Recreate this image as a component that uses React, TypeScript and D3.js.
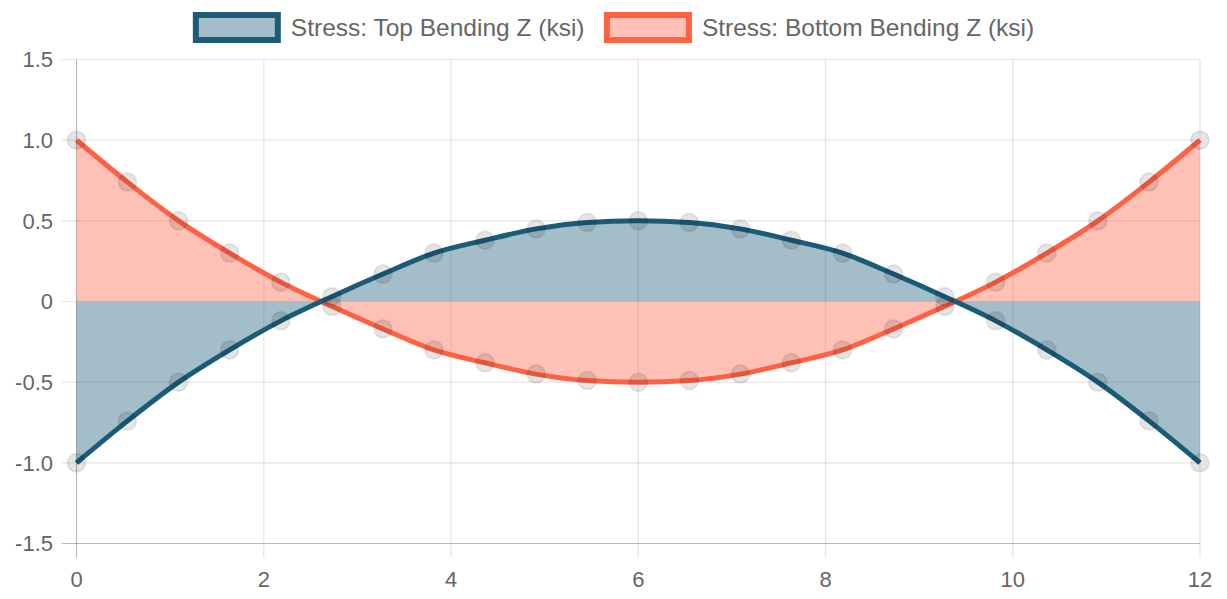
import React from 'react';
import * as d3 from 'd3';

// Stress along the member: top vs bottom bending about Z, filled to zero.

const STATIONS = [
  0, 0.545, 1.091, 1.636, 2.182, 2.727, 3.273, 3.818, 4.364, 4.909, 5.455, 6,
  6.545, 7.091, 7.636, 8.182, 8.727, 9.273, 9.818, 10.364, 10.909, 11.455, 12,
];

const TOP_STRESS = [
  -1.0, -0.74, -0.5, -0.3, -0.12, 0.03, 0.17, 0.3, 0.38, 0.45, 0.49, 0.5,
  0.49, 0.45, 0.38, 0.3, 0.17, 0.03, -0.12, -0.3, -0.5, -0.74, -1.0,
];

const BOTTOM_STRESS = [
  1.0, 0.74, 0.5, 0.3, 0.12, -0.03, -0.17, -0.3, -0.38, -0.45, -0.49, -0.5,
  -0.49, -0.45, -0.38, -0.3, -0.17, -0.03, 0.12, 0.3, 0.5, 0.74, 1.0,
];

const X_TICKS = [0, 2, 4, 6, 8, 10, 12];
const Y_TICKS = [-1.5, -1.0, -0.5, 0, 0.5, 1.0, 1.5];

const SERIES = [
  { label: 'Stress: Top Bending Z (ksi)', values: TOP_STRESS, color: '#1a5b78', fill: 'rgba(26,91,120,0.4)' },
  { label: 'Stress: Bottom Bending Z (ksi)', values: BOTTOM_STRESS, color: '#ff6145', fill: 'rgba(255,97,69,0.4)' },
];

const W = 1227;
const H = 599;
const M = { left: 76.5, right: 1200, top: 59.5, bottom: 543.5 };
const FONT = '"Liberation Sans", Arial, Helvetica, sans-serif';
const TICK_FONT = 22;
const LEGEND_FONT = 24.5;
const GRID = 'rgba(0,0,0,0.1)';
const TEXT = '#666';

function measure(text: string, size: number) {
  const c = document.createElement('canvas').getContext('2d');
  if (!c) return text.length * size * 0.5;
  c.font = `${size}px ${FONT}`;
  return c.measureText(text).width;
}

export default function App() {
  const x = d3.scaleLinear().domain([0, 12]).range([M.left, M.right]);
  const y = d3.scaleLinear().domain([-1.5, 1.5]).range([M.bottom, M.top]);

  const line = d3
    .line<number>()
    .x((_, i) => x(STATIONS[i]))
    .y((v) => y(v))
    .curve(d3.curveMonotoneX);
  const area = d3
    .area<number>()
    .x((_, i) => x(STATIONS[i]))
    .y0(y(0))
    .y1((v) => y(v))
    .curve(d3.curveMonotoneX);

  // legend layout, centred over the chart
  const boxW = 82;
  const boxH = 25;
  const gap = 10;
  const itemGap = 19;
  const widths = SERIES.map((s) => measure(s.label, LEGEND_FONT));
  const total = widths.reduce((a, w) => a + boxW + 6 + gap + w, 0) + itemGap * (SERIES.length - 1);
  let cursor = W / 2 - total / 2;
  const legend = SERIES.map((s, i) => {
    const item = { ...s, x: cursor + 3, tx: cursor + boxW + 6 + gap };
    cursor += boxW + 6 + gap + widths[i] + itemGap;
    return item;
  });
  const legendY = 27.5;

  const fmt = (v: number) => (v === 0 ? '0' : v.toFixed(1));

  return (
    <svg width={W} height={H} style={{ display: 'block', margin: -8 }} fontFamily={FONT}>
      <rect width={W} height={H} fill="#fff" />

      {/* grid + ticks */}
      {Y_TICKS.map((t) => (
        <line key={`gy-${t}`} x1={M.left - 15} x2={M.right} y1={y(t)} y2={y(t)} stroke={GRID} strokeWidth={1.2} />
      ))}
      {X_TICKS.map((t) => (
        <line key={`gx-${t}`} x1={x(t)} x2={x(t)} y1={M.top} y2={M.bottom + 14} stroke={GRID} strokeWidth={1.2} />
      ))}
      <line x1={M.left} x2={M.left} y1={M.top} y2={M.bottom + 14} stroke="rgba(0,0,0,0.18)" strokeWidth={1.2} />
      <line x1={M.left - 15} x2={M.right} y1={M.bottom} y2={M.bottom} stroke="rgba(0,0,0,0.18)" strokeWidth={1.2} />

      {Y_TICKS.map((t) => (
        <text key={`ly-${t}`} x={53} y={y(t)} dy="0.36em" textAnchor="end" fontSize={TICK_FONT} fill={TEXT}>
          {fmt(t)}
        </text>
      ))}
      {X_TICKS.map((t) => (
        <text key={`lx-${t}`} x={x(t)} y={587} textAnchor="middle" fontSize={TICK_FONT} fill={TEXT}>
          {t}
        </text>
      ))}

      {/* datasets: last drawn first so the first sits on top */}
      {[...SERIES].reverse().map((s) => (
        <g key={s.label}>
          <path d={area(s.values) ?? ''} fill={s.fill} />
          <path d={line(s.values) ?? ''} fill="none" stroke={s.color} strokeWidth={5} strokeLinejoin="round" />
          {s.values.map((v, i) => (
            <circle
              key={i}
              cx={x(STATIONS[i])}
              cy={y(v)}
              r={9}
              fill="rgba(0,0,0,0.1)"
              stroke="rgba(0,0,0,0.08)"
              strokeWidth={2}
            />
          ))}
        </g>
      ))}

      {/* legend */}
      {legend.map((s) => (
        <g key={`lg-${s.label}`}>
          <rect x={s.x} y={legendY - boxH / 2} width={boxW} height={boxH} fill={s.fill} stroke={s.color} strokeWidth={6} />
          <text x={s.tx} y={legendY} dy="0.36em" fontSize={LEGEND_FONT} fill={TEXT}>
            {s.label}
          </text>
        </g>
      ))}
    </svg>
  );
}
